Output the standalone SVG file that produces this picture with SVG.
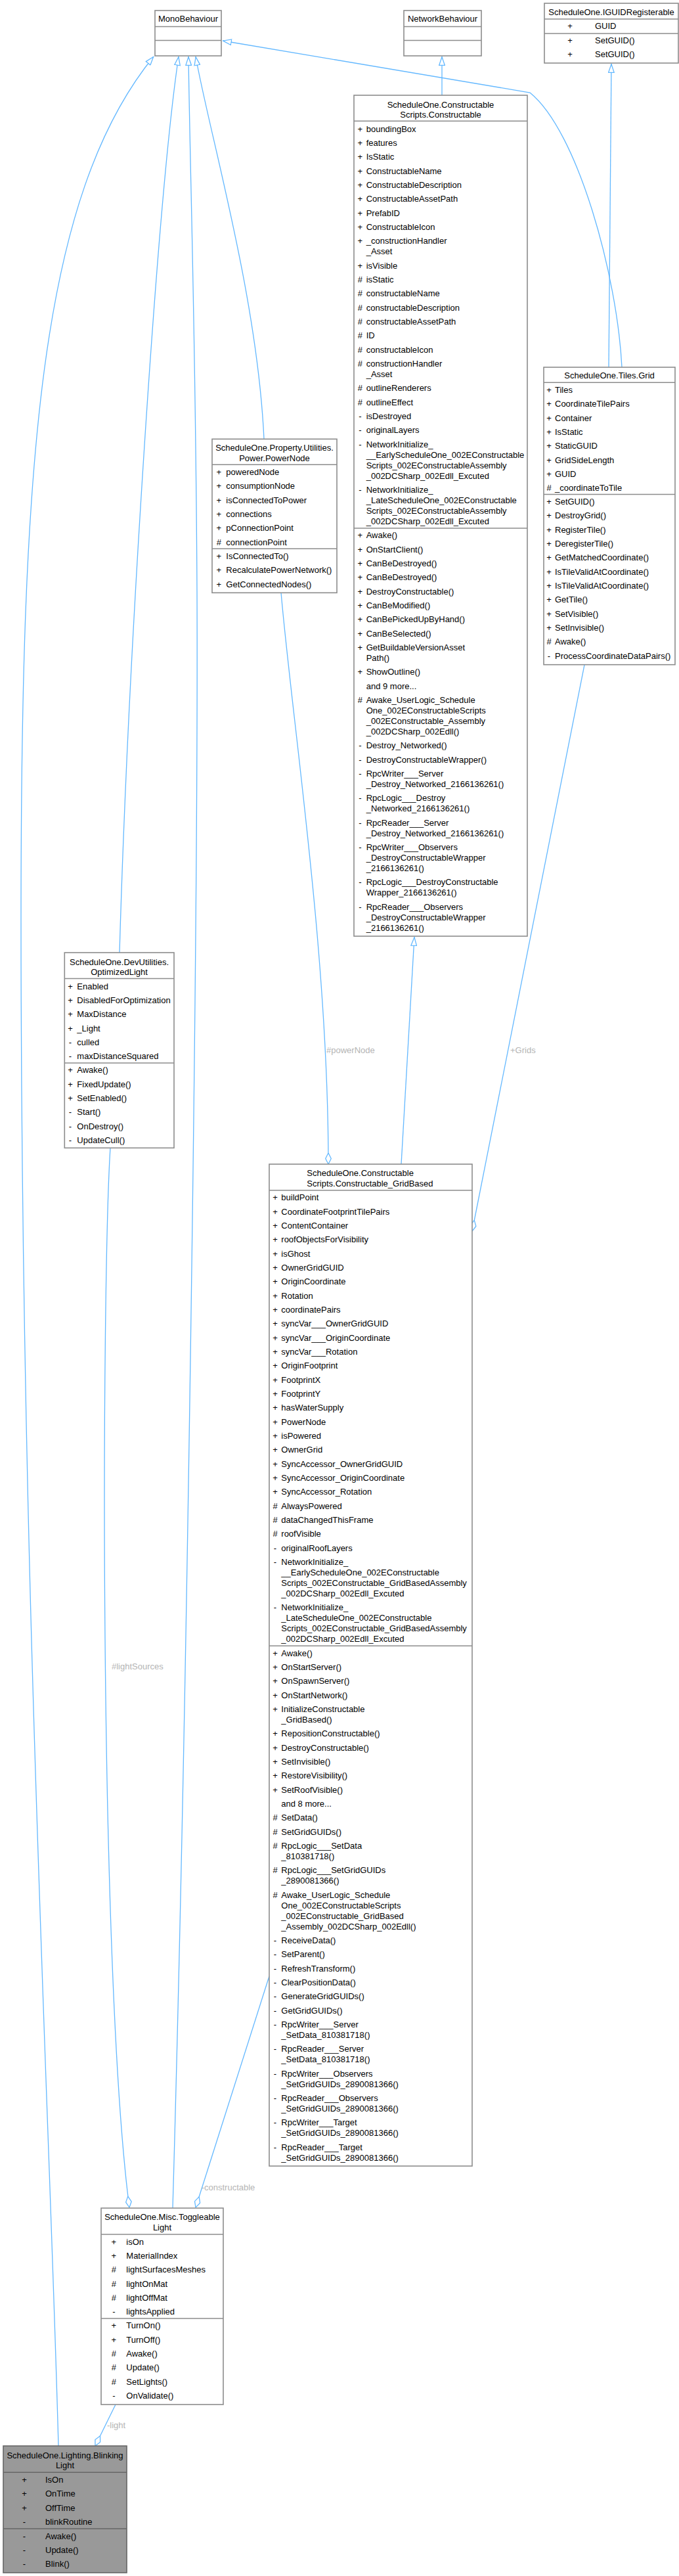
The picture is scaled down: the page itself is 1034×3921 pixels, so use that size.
<svg xmlns="http://www.w3.org/2000/svg" width="1034" height="3921" viewBox="0 0 1034 3921">
<style>
text{font-family:"Liberation Sans",Arial,sans-serif;font-size:13px;fill:#000}
.m{text-anchor:middle}
.b{fill:#fff;stroke:#8c8c8c;stroke-width:1.6}
.h{fill:#999;stroke:#666;stroke-width:1.6}
.s{stroke:#8c8c8c;stroke-width:1.6}
.hs{stroke:#666;stroke-width:1.6}
.e{fill:none;stroke:#63b8ff;stroke-width:1.3}
.l{fill:#b4b4b4}
</style>
<defs>
<marker id="tri" viewBox="0 0 14 10" refX="14" refY="5" markerWidth="14" markerHeight="10" markerUnits="userSpaceOnUse" orient="auto"><path d="M0.7,0.7 L13.3,5 L0.7,9.3 Z" fill="#fff" stroke="#63b8ff" stroke-width="1.3"/></marker>
<marker id="dia" viewBox="0 0 18 10" refX="17.5" refY="5" markerWidth="18" markerHeight="10" markerUnits="userSpaceOnUse" orient="auto"><path d="M0.5,5 L9,0.7 L17.5,5 L9,9.3 Z" fill="#fff" stroke="#63b8ff" stroke-width="1.3"/></marker>
</defs>
<rect width="1034" height="3921" fill="#fff"/>
<g id="edges">
<path class="e" d="M927,559 L931,97" marker-end="url(#tri)"/>
<path class="e" d="M673,145 L673,86" marker-end="url(#tri)"/>
<path class="e" d="M611,1772 L631,1426" marker-end="url(#tri)"/>
<path class="e" d="M947,559 C940,420 880,200 807,141 L339,62" marker-end="url(#tri)"/>
<path class="e" d="M402,668 C392,450 318,200 298,86" marker-end="url(#tri)"/>
<path class="e" d="M263,3361 C285,2600 302,1400 300,900 C298,500 289,250 287,86" marker-end="url(#tri)"/>
<path class="e" d="M182,1450 C195,1000 240,300 272,86" marker-end="url(#tri)"/>
<path class="e" d="M89,3723 C75,3200 32,2400 32,1400 C32,700 60,300 234,86" marker-end="url(#tri)"/>
<path class="e" d="M168,1747 C155,1950 150,3000 197,3360" marker-end="url(#dia)"/>
<path class="e" d="M410,3008 L298,3360" marker-end="url(#dia)"/>
<path class="e" d="M176,3660 L145,3723" marker-end="url(#dia)"/>
<path class="e" d="M428,902 C445,1100 500,1450 500,1772" marker-end="url(#dia)"/>
<path class="e" d="M890,1012 L719,1874" marker-end="url(#dia)"/>
<text class="l" x="497" y="1602.5">#powerNode</text>
<text class="l" x="777" y="1602.5">+Grids</text>
<text class="l" x="170" y="2541">#lightSources</text>
<text class="l" x="306.7" y="3333.5">-constructable</text>
<text class="l" x="163" y="3696">-light</text>
</g>
<g id="MonoBehaviour">
<rect class="b" x="236" y="16" width="101" height="69"/>
<line class="s" x1="236" y1="40.5" x2="337" y2="40.5"/><line class="s" x1="236" y1="61.5" x2="337" y2="61.5"/>
<text class="m" x="286.5" y="33">MonoBehaviour</text>
</g>
<g id="NetworkBehaviour">
<rect class="b" x="615" y="16" width="118" height="69"/>
<line class="s" x1="615" y1="40.5" x2="733" y2="40.5"/><line class="s" x1="615" y1="61.5" x2="733" y2="61.5"/>
<text class="m" x="674" y="33">NetworkBehaviour</text>
</g>
<g id="IGUIDRegisterable">
<rect class="b" x="829" y="5" width="204" height="91"/>
<line class="s" x1="829" y1="29" x2="1033" y2="29"/><line class="s" x1="829" y1="51" x2="1033" y2="51"/>
<text class="m" x="931" y="22.8">ScheduleOne.IGUIDRegisterable</text>
<text class="m" x="868" y="44.2">+</text><text x="906" y="44.2">GUID</text>
<text class="m" x="868" y="65.8">+</text><text x="906" y="65.8">SetGUID()</text>
<text class="m" x="868" y="86.5">+</text><text x="906" y="86.5">SetGUID()</text>
</g>
<g id="Constructable">
<rect class="b" x="539" y="145" width="264" height="1280"/>
<line class="s" x1="539" y1="184.3" x2="803" y2="184.3"/><line class="s" x1="539" y1="804" x2="803" y2="804"/>
<text class="m" x="671" y="163.5">ScheduleOne.Constructable</text>
<text class="m" x="671" y="178.8">Scripts.Constructable</text>
<text class="m" x="548.3" y="200.5">+</text><text x="557.7" y="200.5">boundingBox</text>
<text class="m" x="548.3" y="221.8">+</text><text x="557.7" y="221.8">features</text>
<text class="m" x="548.3" y="243.2">+</text><text x="557.7" y="243.2">IsStatic</text>
<text class="m" x="548.3" y="264.5">+</text><text x="557.7" y="264.5">ConstructableName</text>
<text class="m" x="548.3" y="285.8">+</text><text x="557.7" y="285.8">ConstructableDescription</text>
<text class="m" x="548.3" y="307.2">+</text><text x="557.7" y="307.2">ConstructableAssetPath</text>
<text class="m" x="548.3" y="328.5">+</text><text x="557.7" y="328.5">PrefabID</text>
<text class="m" x="548.3" y="349.8">+</text><text x="557.7" y="349.8">ConstructableIcon</text>
<text class="m" x="548.3" y="371.2">+</text><text x="557.7" y="371.2">_constructionHandler</text><text x="557.7" y="387.2">_Asset</text>
<text class="m" x="548.3" y="408.5">+</text><text x="557.7" y="408.5">isVisible</text>
<text class="m" x="548.3" y="429.8">#</text><text x="557.7" y="429.8">isStatic</text>
<text class="m" x="548.3" y="451.2">#</text><text x="557.7" y="451.2">constructableName</text>
<text class="m" x="548.3" y="472.5">#</text><text x="557.7" y="472.5">constructableDescription</text>
<text class="m" x="548.3" y="493.8">#</text><text x="557.7" y="493.8">constructableAssetPath</text>
<text class="m" x="548.3" y="515.2">#</text><text x="557.7" y="515.2">ID</text>
<text class="m" x="548.3" y="536.5">#</text><text x="557.7" y="536.5">constructableIcon</text>
<text class="m" x="548.3" y="557.8">#</text><text x="557.7" y="557.8">constructionHandler</text><text x="557.7" y="573.8">_Asset</text>
<text class="m" x="548.3" y="595.2">#</text><text x="557.7" y="595.2">outlineRenderers</text>
<text class="m" x="548.3" y="616.5">#</text><text x="557.7" y="616.5">outlineEffect</text>
<text class="m" x="548.3" y="637.8">-</text><text x="557.7" y="637.8">isDestroyed</text>
<text class="m" x="548.3" y="659.2">-</text><text x="557.7" y="659.2">originalLayers</text>
<text class="m" x="548.3" y="680.5">-</text><text x="557.7" y="680.5">NetworkInitialize_</text><text x="557.7" y="696.5">__EarlyScheduleOne_002EConstructable</text><text x="557.7" y="712.5">Scripts_002EConstructableAssembly</text><text x="557.7" y="728.5">_002DCSharp_002Edll_Excuted</text>
<text class="m" x="548.3" y="749.8">-</text><text x="557.7" y="749.8">NetworkInitialize_</text><text x="557.7" y="765.8">_LateScheduleOne_002EConstructable</text><text x="557.7" y="781.8">Scripts_002EConstructableAssembly</text><text x="557.7" y="797.8">_002DCSharp_002Edll_Excuted</text>
<text class="m" x="548.3" y="819.2">+</text><text x="557.7" y="819.2">Awake()</text>
<text class="m" x="548.3" y="840.5">+</text><text x="557.7" y="840.5">OnStartClient()</text>
<text class="m" x="548.3" y="861.8">+</text><text x="557.7" y="861.8">CanBeDestroyed()</text>
<text class="m" x="548.3" y="883.2">+</text><text x="557.7" y="883.2">CanBeDestroyed()</text>
<text class="m" x="548.3" y="904.5">+</text><text x="557.7" y="904.5">DestroyConstructable()</text>
<text class="m" x="548.3" y="925.8">+</text><text x="557.7" y="925.8">CanBeModified()</text>
<text class="m" x="548.3" y="947.2">+</text><text x="557.7" y="947.2">CanBePickedUpByHand()</text>
<text class="m" x="548.3" y="968.5">+</text><text x="557.7" y="968.5">CanBeSelected()</text>
<text class="m" x="548.3" y="989.8">+</text><text x="557.7" y="989.8">GetBuildableVersionAsset</text><text x="557.7" y="1005.8">Path()</text>
<text class="m" x="548.3" y="1027.2">+</text><text x="557.7" y="1027.2">ShowOutline()</text>
<text x="557.7" y="1048.5">and 9 more...</text>
<text class="m" x="548.3" y="1069.8">#</text><text x="557.7" y="1069.8">Awake_UserLogic_Schedule</text><text x="557.7" y="1085.8">One_002EConstructableScripts</text><text x="557.7" y="1101.8">_002EConstructable_Assembly</text><text x="557.7" y="1117.8">_002DCSharp_002Edll()</text>
<text class="m" x="548.3" y="1139.2">-</text><text x="557.7" y="1139.2">Destroy_Networked()</text>
<text class="m" x="548.3" y="1160.5">-</text><text x="557.7" y="1160.5">DestroyConstructableWrapper()</text>
<text class="m" x="548.3" y="1181.8">-</text><text x="557.7" y="1181.8">RpcWriter___Server</text><text x="557.7" y="1197.8">_Destroy_Networked_2166136261()</text>
<text class="m" x="548.3" y="1219.2">-</text><text x="557.7" y="1219.2">RpcLogic___Destroy</text><text x="557.7" y="1235.2">_Networked_2166136261()</text>
<text class="m" x="548.3" y="1256.5">-</text><text x="557.7" y="1256.5">RpcReader___Server</text><text x="557.7" y="1272.5">_Destroy_Networked_2166136261()</text>
<text class="m" x="548.3" y="1293.8">-</text><text x="557.7" y="1293.8">RpcWriter___Observers</text><text x="557.7" y="1309.8">_DestroyConstructableWrapper</text><text x="557.7" y="1325.8">_2166136261()</text>
<text class="m" x="548.3" y="1347.2">-</text><text x="557.7" y="1347.2">RpcLogic___DestroyConstructable</text><text x="557.7" y="1363.2">Wrapper_2166136261()</text>
<text class="m" x="548.3" y="1384.5">-</text><text x="557.7" y="1384.5">RpcReader___Observers</text><text x="557.7" y="1400.5">_DestroyConstructableWrapper</text><text x="557.7" y="1416.5">_2166136261()</text>
</g>
<g id="Grid">
<rect class="b" x="828" y="559" width="200" height="452.7"/>
<line class="s" x1="828" y1="582.3" x2="1028" y2="582.3"/><line class="s" x1="828" y1="752.5" x2="1028" y2="752.5"/>
<text class="m" x="928" y="576.2">ScheduleOne.Tiles.Grid</text>
<text class="m" x="836" y="597.8">+</text><text x="845" y="597.8">Tiles</text>
<text class="m" x="836" y="619.2">+</text><text x="845" y="619.2">CoordinateTilePairs</text>
<text class="m" x="836" y="640.5">+</text><text x="845" y="640.5">Container</text>
<text class="m" x="836" y="661.8">+</text><text x="845" y="661.8">IsStatic</text>
<text class="m" x="836" y="683.2">+</text><text x="845" y="683.2">StaticGUID</text>
<text class="m" x="836" y="704.5">+</text><text x="845" y="704.5">GridSideLength</text>
<text class="m" x="836" y="725.8">+</text><text x="845" y="725.8">GUID</text>
<text class="m" x="836" y="747.2">#</text><text x="845" y="747.2">_coordinateToTile</text>
<text class="m" x="836" y="767.8">+</text><text x="845" y="767.8">SetGUID()</text>
<text class="m" x="836" y="789.2">+</text><text x="845" y="789.2">DestroyGrid()</text>
<text class="m" x="836" y="810.5">+</text><text x="845" y="810.5">RegisterTile()</text>
<text class="m" x="836" y="831.8">+</text><text x="845" y="831.8">DeregisterTile()</text>
<text class="m" x="836" y="853.2">+</text><text x="845" y="853.2">GetMatchedCoordinate()</text>
<text class="m" x="836" y="874.5">+</text><text x="845" y="874.5">IsTileValidAtCoordinate()</text>
<text class="m" x="836" y="895.8">+</text><text x="845" y="895.8">IsTileValidAtCoordinate()</text>
<text class="m" x="836" y="917.2">+</text><text x="845" y="917.2">GetTile()</text>
<text class="m" x="836" y="938.5">+</text><text x="845" y="938.5">SetVisible()</text>
<text class="m" x="836" y="959.8">+</text><text x="845" y="959.8">SetInvisible()</text>
<text class="m" x="836" y="981.2">#</text><text x="845" y="981.2">Awake()</text>
<text class="m" x="836" y="1002.5">-</text><text x="845" y="1002.5">ProcessCoordinateDataPairs()</text>
</g>
<g id="PowerNode">
<rect class="b" x="323" y="668.3" width="190" height="234"/>
<line class="s" x1="323" y1="707.3" x2="513" y2="707.3"/><line class="s" x1="323" y1="835.3" x2="513" y2="835.3"/>
<text class="m" x="418" y="686.2">ScheduleOne.Property.Utilities.</text>
<text class="m" x="418" y="701.8">Power.PowerNode</text>
<text class="m" x="333.3" y="722.8">+</text><text x="344.3" y="722.8">poweredNode</text>
<text class="m" x="333.3" y="744.2">+</text><text x="344.3" y="744.2">consumptionNode</text>
<text class="m" x="333.3" y="765.5">+</text><text x="344.3" y="765.5">isConnectedToPower</text>
<text class="m" x="333.3" y="786.8">+</text><text x="344.3" y="786.8">connections</text>
<text class="m" x="333.3" y="808.2">+</text><text x="344.3" y="808.2">pConnectionPoint</text>
<text class="m" x="333.3" y="829.5">#</text><text x="344.3" y="829.5">connectionPoint</text>
<text class="m" x="333.3" y="850.8">+</text><text x="344.3" y="850.8">IsConnectedTo()</text>
<text class="m" x="333.3" y="872.2">+</text><text x="344.3" y="872.2">RecalculatePowerNetwork()</text>
<text class="m" x="333.3" y="893.5">+</text><text x="344.3" y="893.5">GetConnectedNodes()</text>
</g>
<g id="OptimizedLight">
<rect class="b" x="98.3" y="1450" width="166.7" height="297.3"/>
<line class="s" x1="98.3" y1="1489.5" x2="265" y2="1489.5"/><line class="s" x1="98.3" y1="1618" x2="265" y2="1618"/>
<text class="m" x="181.5" y="1468.5">ScheduleOne.DevUtilities.</text>
<text class="m" x="181.5" y="1484">OptimizedLight</text>
<text class="m" x="107" y="1505.5">+</text><text x="117.3" y="1505.5">Enabled</text>
<text class="m" x="107" y="1526.8">+</text><text x="117.3" y="1526.8">DisabledForOptimization</text>
<text class="m" x="107" y="1548.2">+</text><text x="117.3" y="1548.2">MaxDistance</text>
<text class="m" x="107" y="1569.5">+</text><text x="117.3" y="1569.5">_Light</text>
<text class="m" x="107" y="1590.8">-</text><text x="117.3" y="1590.8">culled</text>
<text class="m" x="107" y="1612.2">-</text><text x="117.3" y="1612.2">maxDistanceSquared</text>
<text class="m" x="107" y="1633.2">+</text><text x="117.3" y="1633.2">Awake()</text>
<text class="m" x="107" y="1654.5">+</text><text x="117.3" y="1654.5">FixedUpdate()</text>
<text class="m" x="107" y="1675.8">+</text><text x="117.3" y="1675.8">SetEnabled()</text>
<text class="m" x="107" y="1697.2">-</text><text x="117.3" y="1697.2">Start()</text>
<text class="m" x="107" y="1718.5">-</text><text x="117.3" y="1718.5">OnDestroy()</text>
<text class="m" x="107" y="1739.8">-</text><text x="117.3" y="1739.8">UpdateCull()</text>
</g>
<g id="GridBased">
<rect class="b" x="410" y="1772" width="309" height="1525"/>
<line class="s" x1="410" y1="1811.7" x2="719" y2="1811.7"/><line class="s" x1="410" y1="2505.3" x2="719" y2="2505.3"/>
<text x="467.3" y="1789.5">ScheduleOne.Constructable</text>
<text x="467.3" y="1805.5">Scripts.Constructable_GridBased</text>
<text class="m" x="419" y="1827.2">+</text><text x="428.3" y="1827.2">buildPoint</text>
<text class="m" x="419" y="1848.5">+</text><text x="428.3" y="1848.5">CoordinateFootprintTilePairs</text>
<text class="m" x="419" y="1869.8">+</text><text x="428.3" y="1869.8">ContentContainer</text>
<text class="m" x="419" y="1891.2">+</text><text x="428.3" y="1891.2">roofObjectsForVisibility</text>
<text class="m" x="419" y="1912.5">+</text><text x="428.3" y="1912.5">isGhost</text>
<text class="m" x="419" y="1933.8">+</text><text x="428.3" y="1933.8">OwnerGridGUID</text>
<text class="m" x="419" y="1955.2">+</text><text x="428.3" y="1955.2">OriginCoordinate</text>
<text class="m" x="419" y="1976.5">+</text><text x="428.3" y="1976.5">Rotation</text>
<text class="m" x="419" y="1997.8">+</text><text x="428.3" y="1997.8">coordinatePairs</text>
<text class="m" x="419" y="2019.2">+</text><text x="428.3" y="2019.2">syncVar___OwnerGridGUID</text>
<text class="m" x="419" y="2040.5">+</text><text x="428.3" y="2040.5">syncVar___OriginCoordinate</text>
<text class="m" x="419" y="2061.8">+</text><text x="428.3" y="2061.8">syncVar___Rotation</text>
<text class="m" x="419" y="2083.2">+</text><text x="428.3" y="2083.2">OriginFootprint</text>
<text class="m" x="419" y="2104.5">+</text><text x="428.3" y="2104.5">FootprintX</text>
<text class="m" x="419" y="2125.8">+</text><text x="428.3" y="2125.8">FootprintY</text>
<text class="m" x="419" y="2147.2">+</text><text x="428.3" y="2147.2">hasWaterSupply</text>
<text class="m" x="419" y="2168.5">+</text><text x="428.3" y="2168.5">PowerNode</text>
<text class="m" x="419" y="2189.8">+</text><text x="428.3" y="2189.8">isPowered</text>
<text class="m" x="419" y="2211.2">+</text><text x="428.3" y="2211.2">OwnerGrid</text>
<text class="m" x="419" y="2232.5">+</text><text x="428.3" y="2232.5">SyncAccessor_OwnerGridGUID</text>
<text class="m" x="419" y="2253.8">+</text><text x="428.3" y="2253.8">SyncAccessor_OriginCoordinate</text>
<text class="m" x="419" y="2275.2">+</text><text x="428.3" y="2275.2">SyncAccessor_Rotation</text>
<text class="m" x="419" y="2296.5">#</text><text x="428.3" y="2296.5">AlwaysPowered</text>
<text class="m" x="419" y="2317.8">#</text><text x="428.3" y="2317.8">dataChangedThisFrame</text>
<text class="m" x="419" y="2339.2">#</text><text x="428.3" y="2339.2">roofVisible</text>
<text class="m" x="419" y="2360.5">-</text><text x="428.3" y="2360.5">originalRoofLayers</text>
<text class="m" x="419" y="2381.8">-</text><text x="428.3" y="2381.8">NetworkInitialize_</text><text x="428.3" y="2397.8">__EarlyScheduleOne_002EConstructable</text><text x="428.3" y="2413.8">Scripts_002EConstructable_GridBasedAssembly</text><text x="428.3" y="2429.8">_002DCSharp_002Edll_Excuted</text>
<text class="m" x="419" y="2451.2">-</text><text x="428.3" y="2451.2">NetworkInitialize_</text><text x="428.3" y="2467.2">_LateScheduleOne_002EConstructable</text><text x="428.3" y="2483.2">Scripts_002EConstructable_GridBasedAssembly</text><text x="428.3" y="2499.2">_002DCSharp_002Edll_Excuted</text>
<text class="m" x="419" y="2520.5">+</text><text x="428.3" y="2520.5">Awake()</text>
<text class="m" x="419" y="2541.8">+</text><text x="428.3" y="2541.8">OnStartServer()</text>
<text class="m" x="419" y="2563.2">+</text><text x="428.3" y="2563.2">OnSpawnServer()</text>
<text class="m" x="419" y="2584.5">+</text><text x="428.3" y="2584.5">OnStartNetwork()</text>
<text class="m" x="419" y="2605.8">+</text><text x="428.3" y="2605.8">InitializeConstructable</text><text x="428.3" y="2621.8">_GridBased()</text>
<text class="m" x="419" y="2643.2">+</text><text x="428.3" y="2643.2">RepositionConstructable()</text>
<text class="m" x="419" y="2664.5">+</text><text x="428.3" y="2664.5">DestroyConstructable()</text>
<text class="m" x="419" y="2685.8">+</text><text x="428.3" y="2685.8">SetInvisible()</text>
<text class="m" x="419" y="2707.2">+</text><text x="428.3" y="2707.2">RestoreVisibility()</text>
<text class="m" x="419" y="2728.5">+</text><text x="428.3" y="2728.5">SetRoofVisible()</text>
<text x="428.3" y="2749.8">and 8 more...</text>
<text class="m" x="419" y="2771.2">#</text><text x="428.3" y="2771.2">SetData()</text>
<text class="m" x="419" y="2792.5">#</text><text x="428.3" y="2792.5">SetGridGUIDs()</text>
<text class="m" x="419" y="2813.8">#</text><text x="428.3" y="2813.8">RpcLogic___SetData</text><text x="428.3" y="2829.8">_810381718()</text>
<text class="m" x="419" y="2851.2">#</text><text x="428.3" y="2851.2">RpcLogic___SetGridGUIDs</text><text x="428.3" y="2867.2">_2890081366()</text>
<text class="m" x="419" y="2888.5">#</text><text x="428.3" y="2888.5">Awake_UserLogic_Schedule</text><text x="428.3" y="2904.5">One_002EConstructableScripts</text><text x="428.3" y="2920.5">_002EConstructable_GridBased</text><text x="428.3" y="2936.5">_Assembly_002DCSharp_002Edll()</text>
<text class="m" x="419" y="2957.8">-</text><text x="428.3" y="2957.8">ReceiveData()</text>
<text class="m" x="419" y="2979.2">-</text><text x="428.3" y="2979.2">SetParent()</text>
<text class="m" x="419" y="3000.5">-</text><text x="428.3" y="3000.5">RefreshTransform()</text>
<text class="m" x="419" y="3021.8">-</text><text x="428.3" y="3021.8">ClearPositionData()</text>
<text class="m" x="419" y="3043.2">-</text><text x="428.3" y="3043.2">GenerateGridGUIDs()</text>
<text class="m" x="419" y="3064.5">-</text><text x="428.3" y="3064.5">GetGridGUIDs()</text>
<text class="m" x="419" y="3085.8">-</text><text x="428.3" y="3085.8">RpcWriter___Server</text><text x="428.3" y="3101.8">_SetData_810381718()</text>
<text class="m" x="419" y="3123.2">-</text><text x="428.3" y="3123.2">RpcReader___Server</text><text x="428.3" y="3139.2">_SetData_810381718()</text>
<text class="m" x="419" y="3160.5">-</text><text x="428.3" y="3160.5">RpcWriter___Observers</text><text x="428.3" y="3176.5">_SetGridGUIDs_2890081366()</text>
<text class="m" x="419" y="3197.8">-</text><text x="428.3" y="3197.8">RpcReader___Observers</text><text x="428.3" y="3213.8">_SetGridGUIDs_2890081366()</text>
<text class="m" x="419" y="3235.2">-</text><text x="428.3" y="3235.2">RpcWriter___Target</text><text x="428.3" y="3251.2">_SetGridGUIDs_2890081366()</text>
<text class="m" x="419" y="3272.5">-</text><text x="428.3" y="3272.5">RpcReader___Target</text><text x="428.3" y="3288.5">_SetGridGUIDs_2890081366()</text>
</g>
<g id="ToggleableLight">
<rect class="b" x="154" y="3361" width="186" height="299"/>
<line class="s" x1="154" y1="3401" x2="340" y2="3401"/><line class="s" x1="154" y1="3529" x2="340" y2="3529"/>
<text class="m" x="247" y="3378.8">ScheduleOne.Misc.Toggleable</text>
<text class="m" x="247" y="3394.8">Light</text>
<text class="m" x="173.3" y="3416.5">+</text><text x="192.3" y="3416.5">isOn</text>
<text class="m" x="173.3" y="3437.8">+</text><text x="192.3" y="3437.8">MaterialIndex</text>
<text class="m" x="173.3" y="3459.2">#</text><text x="192.3" y="3459.2">lightSurfacesMeshes</text>
<text class="m" x="173.3" y="3480.5">#</text><text x="192.3" y="3480.5">lightOnMat</text>
<text class="m" x="173.3" y="3501.8">#</text><text x="192.3" y="3501.8">lightOffMat</text>
<text class="m" x="173.3" y="3523.2">-</text><text x="192.3" y="3523.2">lightsApplied</text>
<text class="m" x="173.3" y="3544.2">+</text><text x="192.3" y="3544.2">TurnOn()</text>
<text class="m" x="173.3" y="3565.5">+</text><text x="192.3" y="3565.5">TurnOff()</text>
<text class="m" x="173.3" y="3586.8">#</text><text x="192.3" y="3586.8">Awake()</text>
<text class="m" x="173.3" y="3608.2">#</text><text x="192.3" y="3608.2">Update()</text>
<text class="m" x="173.3" y="3629.5">#</text><text x="192.3" y="3629.5">SetLights()</text>
<text class="m" x="173.3" y="3650.8">-</text><text x="192.3" y="3650.8">OnValidate()</text>
</g>
<g id="BlinkingLight">
<rect class="h" x="5" y="3723" width="188" height="193"/>
<line class="hs" x1="5" y1="3763.3" x2="193" y2="3763.3"/><line class="hs" x1="5" y1="3849" x2="193" y2="3849"/>
<text class="m" x="99" y="3741.8">ScheduleOne.Lighting.Blinking</text>
<text class="m" x="99" y="3757.2">Light</text>
<text class="m" x="37" y="3778.8">+</text><text x="69" y="3778.8">IsOn</text>
<text class="m" x="37" y="3800.2">+</text><text x="69" y="3800.2">OnTime</text>
<text class="m" x="37" y="3821.5">+</text><text x="69" y="3821.5">OffTime</text>
<text class="m" x="37" y="3842.8">-</text><text x="69" y="3842.8">blinkRoutine</text>
<text class="m" x="37" y="3864.5">-</text><text x="69" y="3864.5">Awake()</text>
<text class="m" x="37" y="3885.8">-</text><text x="69" y="3885.8">Update()</text>
<text class="m" x="37" y="3907.2">-</text><text x="69" y="3907.2">Blink()</text>
</g>
</svg>
